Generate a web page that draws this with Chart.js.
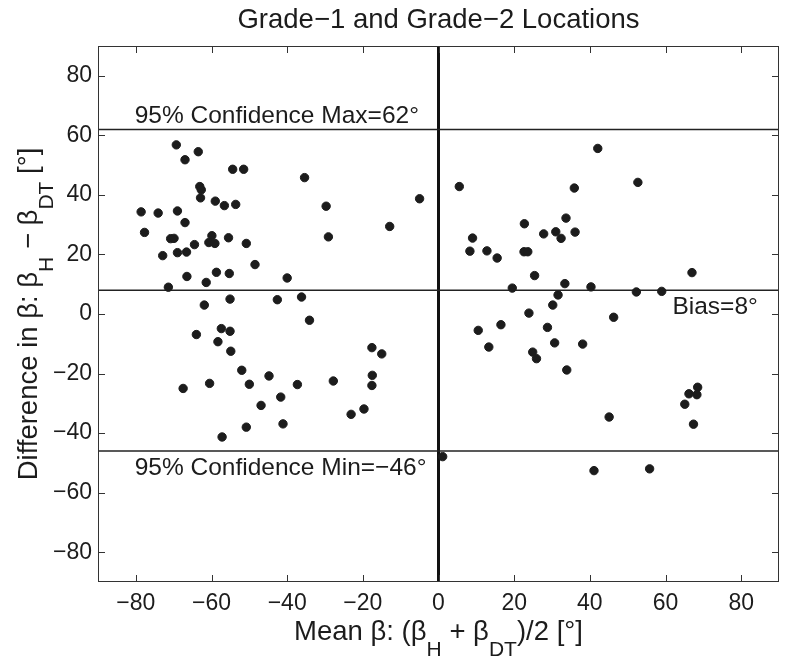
<!DOCTYPE html>
<html>
<head>
<meta charset="utf-8">
<script src="https://cdn.jsdelivr.net/npm/chart.js@4/dist/chart.umd.min.js"></script>
<style>
html,body{margin:0;padding:0;background:#fff;}
#c{display:block;}
</style>
</head>
<body>
<canvas id="c" width="786" height="658"></canvas>
<script>
// ---- data ----
const meanBeta = [
  -69.3,-63.5,-67.0,-54.4,-51.5,-35.4,-63.1,-62.7,-62.9,-5.0,-59.0,-56.6,-53.6,-29.7,-78.6,-74.1,-69.0,-67.0,-77.7,-12.9,
  -70.8,-69.9,-59.9,-55.5,-29.1,-64.5,-60.7,-59.1,-50.8,-72.9,-69.0,-66.6,-48.5,-66.5,-58.7,-55.3,-40.0,-61.4,-71.4,-55.1,
  -42.6,-36.2,-61.9,-34.1,-57.4,-55.1,-64.0,-58.3,-54.9,-17.6,-15.0,-52.0,-44.8,-17.5,-67.5,-60.5,-50.0,-37.3,-27.8,-17.6,
  -41.7,-46.9,-23.1,-19.7,-50.8,-41.1,-57.2,
  42.1,5.5,35.9,52.7,33.7,22.7,27.8,31.0,32.4,36.1,9.0,8.3,12.8,15.5,22.6,23.6,25.4,67.0,19.5,33.4,
  40.3,52.3,59.0,31.6,30.2,23.9,46.3,10.5,16.5,28.8,13.3,30.7,38.1,24.9,25.9,33.9,68.5,66.2,68.3,65.1,
  45.1,67.4,1.1,41.1,55.8
];
const diffBeta = [
  56.8,54.5,51.8,48.6,48.6,45.8,42.8,41.7,39.0,38.7,37.9,36.4,36.8,36.2,34.3,33.9,34.6,30.7,27.4,29.4,
  25.3,25.4,26.3,25.6,25.9,23.3,24.0,23.7,23.7,19.6,20.6,20.8,16.6,12.6,14.0,13.6,12.1,10.6,9.0,5.0,
  4.8,5.7,3.0,-2.1,-4.9,-5.8,-6.9,-9.3,-12.5,-11.3,-13.4,-18.9,-20.8,-20.6,-25.0,-23.3,-23.6,-23.7,-22.5,-24.0,
  -27.9,-30.7,-33.7,-31.9,-38.0,-36.9,-41.3,
  55.6,42.8,42.3,44.2,32.2,30.3,26.9,27.6,25.4,27.5,25.5,21.1,21.2,18.8,20.9,20.9,12.9,13.9,8.7,10.2,
  9.1,7.4,7.6,6.4,3.0,0.3,-1.1,-5.5,-3.6,-4.5,-11.1,-9.7,-10.1,-12.8,-15.0,-18.8,-24.6,-26.8,-27.1,-30.3,
  -34.6,-37.0,-47.9,-52.6,-52.0
];
const confMax = 62;
const bias = 8;
const confMin = -46;
const axisMin = -90, axisMax = 90;
const xTickValues = [-80,-60,-40,-20,0,20,40,60,80];
const yTickValues = [-80,-60,-40,-20,0,20,40,60,80];
const titleText = 'Grade\u22121 and Grade\u22122 Locations';
const maxLabel = '95% Confidence Max=62\u00b0';
const minLabel = '95% Confidence Min=\u221246\u00b0';
const biasLabel = 'Bias=8\u00b0';
const xTitleParts = [['Mean \u03b2: (\u03b2',0],['H',1],[' + \u03b2',0],['DT',1],[')/2 [\u00b0]',0]];
const yTitleParts = [['Difference in \u03b2: \u03b2',0],['H',1],[' \u2212 \u03b2',0],['DT',1],[' [\u00b0]',0]];

const FONT = "'Liberation Sans', Arial, Helvetica, sans-serif";
const INK = '#1c1c1c';

const points = meanBeta.map((x,i)=>({x:x, y:diffBeta[i]}));
const hline = v => [{x:axisMin,y:v},{x:axisMax,y:v}];

function fmt(v){ return v < 0 ? '\u2212' + Math.abs(v) : String(v); }

function drawRich(ctx, parts, size, subSize, subDrop){
  let widths = parts.map(p=>{ ctx.font = (p[1]?subSize:size) + 'px ' + FONT; return ctx.measureText(p[0]).width; });
  let total = widths.reduce((a,b)=>a+b,0);
  let x = -total/2;
  ctx.textAlign = 'left';
  ctx.textBaseline = 'alphabetic';
  parts.forEach((p,i)=>{
    ctx.font = (p[1]?subSize:size) + 'px ' + FONT;
    ctx.fillText(p[0], x, p[1]?subDrop:0);
    x += widths[i];
  });
}

const decor = {
  id:'decor',
  afterDraw(chart){
    const ctx = chart.ctx, a = chart.chartArea;
    const xs = chart.scales.x, ys = chart.scales.y;
    ctx.save();
    ctx.strokeStyle = '#333';
    ctx.lineWidth = 1;
    ctx.strokeRect(a.left+0.5, a.top+0.5, a.right-a.left-1, a.bottom-a.top-1);
    const tl = 7;
    ctx.beginPath();
    xTickValues.forEach(v=>{
      const px = Math.round(xs.getPixelForValue(v))+0.5;
      ctx.moveTo(px, a.bottom); ctx.lineTo(px, a.bottom-tl);
      ctx.moveTo(px, a.top); ctx.lineTo(px, a.top+tl);
    });
    yTickValues.forEach(v=>{
      const py = Math.round(ys.getPixelForValue(v))+0.5;
      ctx.moveTo(a.left, py); ctx.lineTo(a.left+tl, py);
      ctx.moveTo(a.right, py); ctx.lineTo(a.right-tl, py);
    });
    ctx.stroke();
    ctx.fillStyle = INK;
    ctx.font = '24.5px ' + FONT;
    ctx.textBaseline = 'alphabetic';
    ctx.textAlign = 'left';
    const lx = xs.getPixelForValue(-80.3);
    ctx.fillText(maxLabel, lx, ys.getPixelForValue(confMax) - 6);
    ctx.fillText(minLabel, lx, ys.getPixelForValue(confMin) + 24);
    ctx.textAlign = 'right';
    ctx.fillText(biasLabel, xs.getPixelForValue(84.4), ys.getPixelForValue(bias) + 24);
    ctx.textAlign = 'center';
    ctx.font = '27.5px ' + FONT;
    ctx.fillText(titleText, (a.left+a.right)/2, 28);
    ctx.save();
    ctx.translate((a.left+a.right)/2, 640);
    drawRich(ctx, xTitleParts, 27.5, 21, 16);
    ctx.restore();
    ctx.save();
    ctx.translate(37, (a.top+a.bottom)/2);
    ctx.rotate(-Math.PI/2);
    drawRich(ctx, yTitleParts, 27.5, 21, 16);
    ctx.restore();
    ctx.restore();
  }
};

new Chart(document.getElementById('c'), {
  type:'scatter',
  data:{
    datasets:[
      {data:points, backgroundColor:INK, borderColor:INK, pointRadius:4.2, pointHoverRadius:4.2, showLine:false},
      {data:hline(confMax), type:'line', borderColor:'#222', borderWidth:1.5, pointRadius:0, fill:false},
      {data:hline(bias), type:'line', borderColor:'#222', borderWidth:1.5, pointRadius:0, fill:false},
      {data:hline(confMin), type:'line', borderColor:'#222', borderWidth:1.5, pointRadius:0, fill:false},
      {data:[{x:0,y:axisMin},{x:0,y:axisMax}], type:'line', borderColor:'#111', borderWidth:3, pointRadius:0, fill:false}
    ]
  },
  options:{
    responsive:false,
    animation:false,
    devicePixelRatio:1,
    layout:{padding:{top:46,right:7,left:0,bottom:0}},
    plugins:{legend:{display:false}, tooltip:{enabled:false}, title:{display:false}},
    scales:{
      x:{
        type:'linear', min:axisMin, max:axisMax,
        afterBuildTicks(s){ s.ticks = xTickValues.map(v=>({value:v})); },
        afterFit(s){ s.height = 76; },
        grid:{display:false, drawTicks:false},
        border:{display:false},
        ticks:{padding:8, color:INK, font:{family:FONT, size:23}, maxRotation:0, autoSkip:false, callback:v=>fmt(v)}
      },
      y:{
        type:'linear', min:axisMin, max:axisMax,
        afterBuildTicks(s){ s.ticks = yTickValues.map(v=>({value:v})); },
        afterFit(s){ s.width = 98; },
        grid:{display:false, drawTicks:false},
        border:{display:false},
        ticks:{padding:6, color:INK, font:{family:FONT, size:23}, autoSkip:false, callback:v=>fmt(v)}
      }
    }
  },
  plugins:[decor]
});
</script>
</body>
</html>
